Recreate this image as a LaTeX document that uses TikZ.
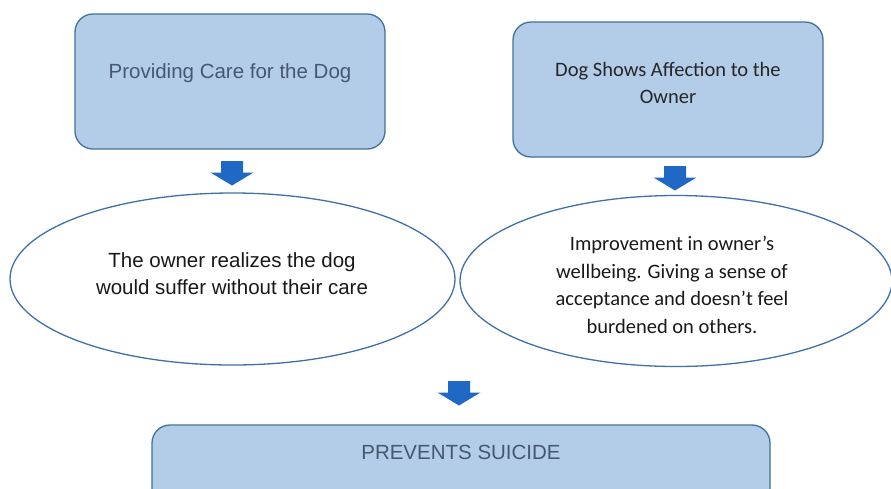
\documentclass[tikz,border=0pt]{standalone}
\usepackage{fontspec}
\setmainfont{Liberation Sans}
\newfontfamily\calib{Carlito}
\usetikzlibrary{shapes.geometric}
\definecolor{boxfill}{HTML}{B3CDE9}
\definecolor{boxdraw}{HTML}{41719C}
\definecolor{ellborder}{HTML}{4070A8}
\definecolor{arrowblue}{HTML}{1F68C4}
\definecolor{textgray}{HTML}{46586E}
\begin{document}
\begin{tikzpicture}[x=1pt,y=-1pt,
  box/.style={draw=boxdraw,fill=boxfill,line width=1.3pt,rounded corners=18pt,inner sep=0pt},
  oval/.style={ellipse,draw=ellborder,line width=1.3pt,fill=white,inner sep=0pt},
  arialtext/.style={font=\fontsize{20.5}{27}\selectfont,align=center,inner sep=0pt},
  calibtext/.style={font=\calib\fontsize{20.5}{27.5}\selectfont,align=center,inner sep=0pt},
  downarrow/.pic={\fill[arrowblue] (-11,0) -- (11,0) -- (11,11.5) -- (21.5,11.5) -- (0,24.5) -- (-21.5,11.5) -- (-11,11.5) -- cycle;}
]
\useasboundingbox (0,0) rectangle (891,488);
\clip (0,0) rectangle (891,488);
\fill[white] (0,0) rectangle (891,488);

% top boxes
\node[box,minimum width=310pt,minimum height=135pt] (care) at (230,81.5) {};
\node[arialtext,text=textgray] (caretxt) at (230,73) {Providing Care for the Dog};
\node[box,minimum width=310pt,minimum height=135pt] (aff) at (668,89.5) {};
\node[calibtext,text=black!85] (afftxt) at (668,83) {Dog Shows Affection to the\\Owner};

% ellipses
\node[oval,minimum width=445pt,minimum height=172pt] (e1) at (232.5,279) {};
\node[arialtext,text=black!90] (e1txt) at (232,274) {The owner realizes the dog\\would suffer without their care};
\node[oval,minimum width=432pt,minimum height=171pt] (e2) at (676,281) {};
\node[calibtext,text=black!90] (e2txt) at (672,285) {Improvement in owner’s\\wellbeing. Giving a sense of\\acceptance and doesn’t feel\\burdened on others.};

% bottom box
\node[box,minimum width=618pt,minimum height=90pt] (prev) at (461,470) {};
\node[arialtext,text=textgray] (prevtxt) at (461,452) {PREVENTS SUICIDE};

% block arrows
\coordinate (a1) at (232,161);
\coordinate (a2) at (675,166);
\coordinate (a3) at (459,381);
\pic at (a1) {downarrow};
\pic at (a2) {downarrow};
\pic at (a3) {downarrow};
\end{tikzpicture}
\end{document}
